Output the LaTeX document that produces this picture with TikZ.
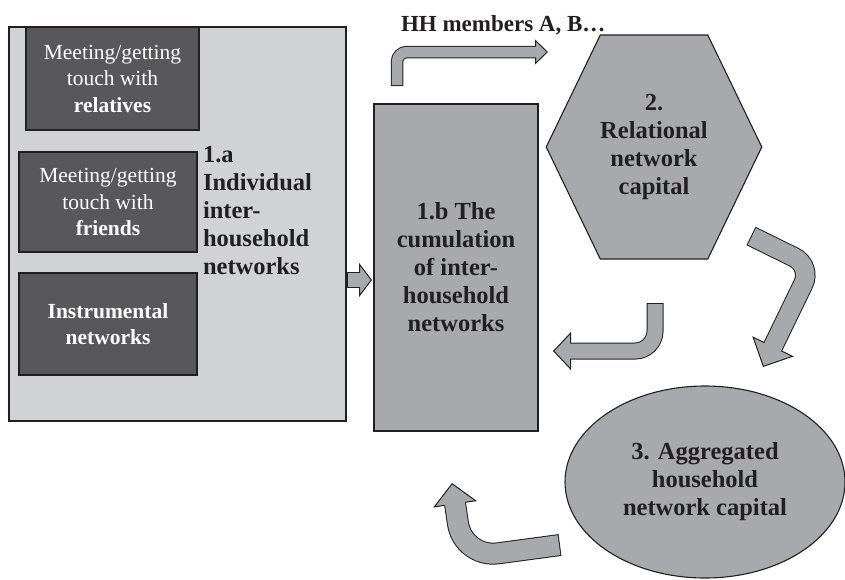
\documentclass[tikz,border=0pt]{standalone}
\usepackage{fontspec}
\setmainfont{Liberation Serif}
\usetikzlibrary{arrows.meta,shapes.geometric,shapes.symbols}
\definecolor{rim}{HTML}{231F20}
\definecolor{boxlight}{HTML}{D1D2D4}
\definecolor{boxdark}{HTML}{58585A}
\definecolor{boxmid}{HTML}{A7A9AC}
\begin{document}
\begin{tikzpicture}[x=1pt,y=-1pt,inner sep=0pt,outer sep=0pt,
outerbox/.style={draw=rim,fill=boxlight,line width=1.3pt,minimum width=337pt,minimum height=394pt},
netbox/.style={draw=rim,fill=boxdark,line width=1.1pt,text=white,align=center,font=\fontsize{21.5}{26.5}\selectfont},
stagetext/.style={text=rim,align=center,font=\fontsize{24.5}{28}\selectfont\bfseries},
stagebox/.style={draw=rim,fill=boxmid,line width=1.1pt,stagetext},
blockarrow/.style n args={3}{draw=boxmid,line width=#1-2pt,shorten <=1pt,shorten >=#3-2pt,
  preaction={draw=rim,line width=#1,shorten <=0pt,shorten >=0pt,-{Triangle[length=#3,width=#2,line width=1pt,fill=boxmid]}}}]
\useasboundingbox (0,0) rectangle (845,579);
% 1.a individual networks
\draw (177.5,224) node[outerbox] (indiv) {};
\draw (112.5,78.5) node[netbox,minimum width=173pt,minimum height=103pt] (kin) {Meeting/getting\\touch with\\\textbf{relatives}};
\draw (108,202) node[netbox,minimum width=178pt,minimum height=100pt] (friends) {Meeting/getting\\touch with\\\textbf{friends}};
\draw (108,324) node[netbox,minimum width=178pt,minimum height=102pt,font=\fontsize{21.5}{25.5}\selectfont\bfseries] (instr) {Instrumental\\networks};
\draw (203,211) node[stagetext,anchor=west,align=left] (lbl1a) {1.a\\Individual\\inter-\\household\\networks};
% 1.b, 2 and 3
\draw (456,267.5) node[stagebox,minimum width=164pt,minimum height=327pt] (cum) {1.b The\\cumulation\\of inter-\\household\\networks};
\draw (654,147) node[stagebox,signal,signal to=west and east,signal pointer angle=128.5,minimum width=207pt,minimum height=224pt] (relcap) {2.\\Relational\\network\\capital};
\draw (705,482) node[stagebox,ellipse,minimum width=280pt,minimum height=192pt] (hhcap) {3. Aggregated\\household\\network capital};
\draw (401,25) node[stagetext,anchor=west,font=\fontsize{23}{27}\selectfont\bfseries] (members) {HH members A, B…};
% block arrows
\coordinate (a0) at (397,86);
\coordinate (a1) at (548,52);
\coordinate (b0) at (346.5,280);
\coordinate (b1) at (372,280);
\coordinate (c0) at (655,303);
\coordinate (c1) at (553,351);
\coordinate (d0) at (751,236);
\coordinate (d1) at (763,367);
\coordinate (e0) at (560,545);
\coordinate (e1) at (452,483);
\draw[blockarrow={12.5pt}{25pt}{13pt},rounded corners=10pt] (a0) |- (a1);
\draw[blockarrow={16pt}{34pt}{13pt}] (b0) -- (b1);
\draw[blockarrow={17pt}{38pt}{18pt},rounded corners=20pt] (c0) |- (c1);
\draw[blockarrow={20.5pt}{46pt}{23pt},rounded corners=20pt] (d0) -- (812,266) -- (d1);
\draw[blockarrow={22pt}{44pt}{21.5pt},rounded corners=35pt] (e0) -- (463,558) -- (e1);
\end{tikzpicture}
\end{document}
